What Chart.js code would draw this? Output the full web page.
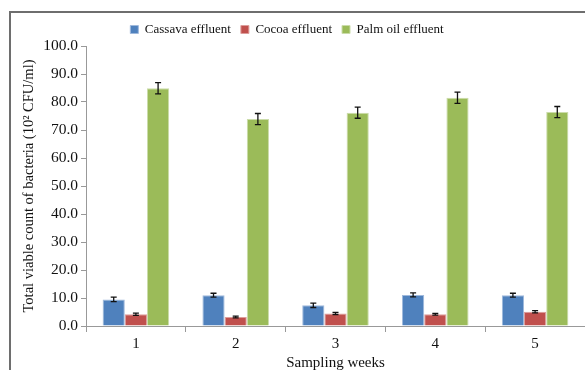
<!DOCTYPE html>
<html>
<head>
<meta charset="utf-8">
<script src="https://cdn.jsdelivr.net/npm/chart.js@4.4.1/dist/chart.umd.min.js"></script>
<style>
html,body{margin:0;padding:0;background:#fff;}
#wrap{position:relative;width:585px;height:370px;}
</style>
</head>
<body>
<div id="wrap"><canvas id="c" width="585" height="370"></canvas></div>
<script>
const weeks = ['1', '2', '3', '4', '5'];
const cassava = [9.5, 11.0, 7.4, 11.1, 11.0];
const cocoa = [4.2, 3.2, 4.5, 4.2, 5.1];
const palmOil = [84.9, 73.9, 76.2, 81.5, 76.4];
const cassavaErr = [0.8, 0.7, 0.8, 0.7, 0.7];
const cocoaErr = [0.4, 0.3, 0.4, 0.3, 0.4];
const palmOilErr = [2.0, 2.0, 2.0, 2.0, 2.0];
const yTicks = [0, 10, 20, 30, 40, 50, 60, 70, 80, 90, 100];

const errs = [cassavaErr, cocoaErr, palmOilErr];
const FONT = 'Liberation Serif';

const errorBars = {
  id: 'errorBars',
  afterDatasetsDraw(chart) {
    const ctx = chart.ctx;
    const y = chart.scales.y;
    ctx.save();
    ctx.strokeStyle = '#111';
    ctx.lineWidth = 1.3;
    chart.data.datasets.forEach((ds, i) => {
      const meta = chart.getDatasetMeta(i);
      meta.data.forEach((bar, j) => {
        const v = ds.data[j], e = errs[i][j];
        const x = bar.x;
        const yt = y.getPixelForValue(v + e), yb = y.getPixelForValue(v - e);
        ctx.beginPath();
        ctx.moveTo(x, yt); ctx.lineTo(x, yb);
        ctx.moveTo(x - 3, yt); ctx.lineTo(x + 3, yt);
        ctx.moveTo(x - 3, yb); ctx.lineTo(x + 3, yb);
        ctx.stroke();
      });
    });
    ctx.restore();
  }
};

const frame = {
  id: 'frame',
  afterLayout(chart) {
    const lg = chart.legend;
    if (lg) { lg.left -= 14; lg.right -= 14; }
  },
  beforeDraw(chart) {
    const ctx = chart.ctx;
    ctx.save();
    ctx.fillStyle = '#fff';
    ctx.fillRect(0, 0, chart.width, chart.height);
    ctx.strokeStyle = '#6e6e6e';
    ctx.lineWidth = 2;
    ctx.beginPath();
    ctx.moveTo(10, 370); ctx.lineTo(10, 12); ctx.lineTo(585, 12);
    ctx.stroke();
    ctx.restore();
  }
};

new Chart(document.getElementById('c'), {
  type: 'bar',
  data: {
    labels: weeks,
    datasets: [
      { label: 'Cassava effluent', data: cassava, backgroundColor: '#4F81BD', borderColor: '#9fb9dc', borderWidth: 1 },
      { label: 'Cocoa effluent', data: cocoa, backgroundColor: '#C0504D', borderColor: '#dd9d9b', borderWidth: 1 },
      { label: 'Palm oil effluent', data: palmOil, backgroundColor: '#9BBB59', borderColor: '#cbdcaa', borderWidth: 1 }
    ]
  },
  options: {
    responsive: false,
    animation: false,
    devicePixelRatio: 1,
    layout: { padding: { left: 17, right: 0, top: 13, bottom: 0 } },
    datasets: { bar: { barPercentage: 1.0, categoryPercentage: 0.667 } },
    plugins: {
      legend: {
        position: 'top',
        labels: {
          font: { family: FONT, size: 13 },
          color: '#111',
          boxWidth: 8,
          boxHeight: 8,
          padding: 10
        }
      },
      tooltip: { enabled: false }
    },
    scales: {
      x: {
        grid: { display: true, drawOnChartArea: false, offset: true, color: '#999', tickLength: 6 },
        border: { color: '#999', width: 1 },
        ticks: { font: { family: FONT, size: 15 }, color: '#111', padding: 3 },
        title: { display: true, text: 'Sampling weeks', font: { family: FONT, size: 15 }, color: '#111', padding: { top: 0, bottom: -2 } },
        afterFit(s) { s.height = 44; }
      },
      y: {
        min: 0, max: 100,
        afterBuildTicks(s) { s.ticks = yTicks.map(v => ({ value: v })); },
        grid: { display: true, drawOnChartArea: false, color: '#999', tickLength: 5 },
        border: { color: '#999', width: 1 },
        ticks: { font: { family: FONT, size: 15.5 }, color: '#111', padding: 3, callback: v => Number(v).toFixed(1) },
        title: { display: true, text: 'Total viable count of bacteria (10² CFU/ml)', font: { family: FONT, size: 14.5 }, color: '#111', padding: { top: 3, bottom: 0 } },
        afterFit(s) { s.width = 69; }
      }
    }
  },
  plugins: [frame, errorBars]
});
</script>
</body>
</html>
